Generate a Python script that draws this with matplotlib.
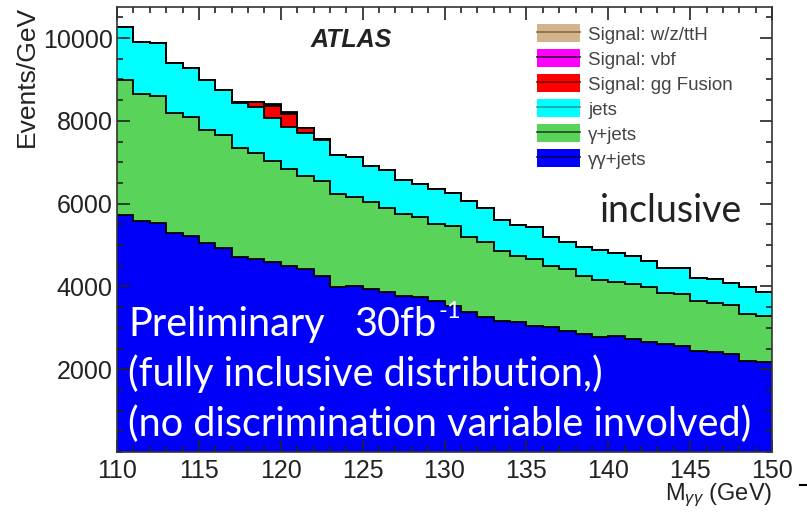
import numpy as np
import matplotlib
matplotlib.use('Agg')
import matplotlib.pyplot as plt
from matplotlib.patches import Patch
from matplotlib.lines import Line2D

plt.rcParams['font.family'] = ['Liberation Sans', 'DejaVu Sans']
plt.rcParams['mathtext.fontset'] = 'custom'
plt.rcParams['mathtext.rm'] = 'Liberation Sans'
plt.rcParams['mathtext.it'] = 'Liberation Sans:italic'

# bin edges 110..150 GeV, 1 GeV bins
edges = np.arange(110, 151, 1)

# events / GeV per sample
gamgam_jets = [5735, 5574, 5542, 5301, 5213, 5060, 4940, 4699, 4651, 4578,
               4490, 4410, 4249, 3976, 4008, 3928, 3855, 3767, 3735, 3646,
               3526, 3373, 3253, 3164, 3132, 3044, 3012, 2923, 2843, 2771,
               2803, 2723, 2651, 2602, 2562, 2441, 2410, 2361, 2200, 2169]
gam_jets = [3250, 3080, 3060, 2890, 2880, 2720, 2720, 2650, 2580, 2460,
            2350, 2250, 2300, 2260, 2160, 2100, 2030, 1990, 1930, 1850,
            1930, 1810, 1810, 1690, 1600, 1610, 1480, 1490, 1410, 1380,
            1300, 1330, 1330, 1250, 1250, 1200, 1200, 1200, 1130, 1120]
jets = [1280, 1250, 1270, 1210, 1180, 1210, 1090, 1080, 1100, 1020,
        1000, 1050, 990, 940, 970, 870, 920, 810, 800, 850,
        810, 870, 840, 760, 760, 770, 690, 670, 690, 720,
        700, 680, 630, 600, 630, 570, 560, 530, 650, 570]
sig_ggf = [0] * 7 + [30, 120, 300, 330, 120, 30] + [0] * 27
sig_vbf = [0] * 8 + [5, 30, 25, 8] + [0] * 28
sig_wzh = [0] * 9 + [10, 10] + [0] * 29

samples = [gamgam_jets, gam_jets, jets, sig_ggf, sig_vbf, sig_wzh]
labels = ['γγ+jets', 'γ+jets', 'jets', 'Signal: gg Fusion', 'Signal: vbf', 'Signal: w/z/ttH']
colors = ['#0000fa', '#5ad35a', '#00ffff', '#ff0000', '#ff00ff', '#d2b48c']
line_colors = ['#000060', '#1a4a1a', '#20a0a0', '#800000', '#400040', '#8a6a40']

fig = plt.figure(figsize=(8.07, 5.12), dpi=100)
W, H = 807, 512
ax = fig.add_axes([117 / W, 1 - 452 / H, (772 - 117) / W, (452 - 7) / H])

stack = np.cumsum(np.array(samples, dtype=float), axis=0)
base = np.zeros(len(edges) - 1)
for i, top in enumerate(stack):
    ax.stairs(top, edges, baseline=base, fill=True, color=colors[i], zorder=1)
    base = top
for i, top in enumerate(stack):
    ax.stairs(top, edges, baseline=None, color='black', lw=1.3, zorder=2)

ax.set_xlim(110, 150)
ax.set_ylim(0, 10750)
ax.set_xticks(np.arange(110, 151, 5))
ax.set_xticks(np.arange(110, 151, 1), minor=True)
ax.set_yticks([2000, 4000, 6000, 8000, 10000])
ax.set_yticks(np.arange(0, 10751, 500), minor=True)
ax.tick_params(which='both', direction='in', top=True, right=True,
               colors='#222222', labelsize=18, width=1.2)
ax.tick_params(which='major', length=9)
ax.tick_params(which='minor', length=4.5)
ax.tick_params(axis='y', pad=3)
ax.tick_params(axis='x', pad=5)
for s in ax.spines.values():
    s.set_color('#333333')
    s.set_linewidth(1.2)

fig.text(27 / W, 1 - 6 / H, 'Events/GeV', rotation=90, ha='center', va='top',
         fontsize=19, color='#222222')
fig.text(772 / W, 1 - 495 / H, r'M$_{\gamma\gamma}$ (GeV)', ha='right', va='center',
         fontsize=17, color='#222222')

ax.text(0.295, 0.925, 'ATLAS', transform=ax.transAxes, fontsize=18,
        fontweight='bold', fontstyle='italic', color='#222222', ha='left', va='center')

handles = [(Patch(facecolor=colors[i], edgecolor='none'),
            Line2D([], [], color=line_colors[i], lw=1.2)) for i in range(6)][::-1]
leg = fig.legend(handles, labels[::-1], loc='upper left',
                 bbox_to_anchor=(528 / W, 1 - 15 / H), frameon=False,
                 fontsize=13.5, handlelength=2.25, handleheight=1.1,
                 labelspacing=0.3, handletextpad=0.45, borderpad=0)
for t in leg.get_texts():
    t.set_color('#444444')

calibri = ['Lato', 'DejaVu Sans']
fig.text(600 / W, 1 - 222 / H, 'inclusive', family=calibri, fontsize=27,
         color='#222222', ha='left', va='baseline')
fig.text(128 / W, 1 - 336 / H, 'Preliminary', family=calibri, fontsize=28.5,
         color='white', ha='left', va='baseline')
lumi = fig.text(354 / W, 1 - 336 / H, '30fb', family=calibri, fontsize=28.5,
                color='white', ha='left', va='baseline')
fig.text(128 / W, 1 - 386 / H, '(fully inclusive distribution,)', family=calibri,
         fontsize=28.5, color='white', ha='left', va='baseline')
fig.text(128 / W, 1 - 436 / H, '(no discrimination variable involved)', family=calibri,
         fontsize=28.5, color='white', ha='left', va='baseline')

# put the superscript right after "30fb"
fig.canvas.draw()
bb = lumi.get_window_extent()
fig.text((bb.x1 + 2) / W, 1 - 318 / H, '-1', family=calibri, fontsize=17,
         color='white', ha='left', va='baseline')

fig.add_artist(Line2D([800 / W, 1.0], [1 - 485 / H, 1 - 485 / H], color='black', lw=1.5))

fig.savefig('out.png', dpi=100)
